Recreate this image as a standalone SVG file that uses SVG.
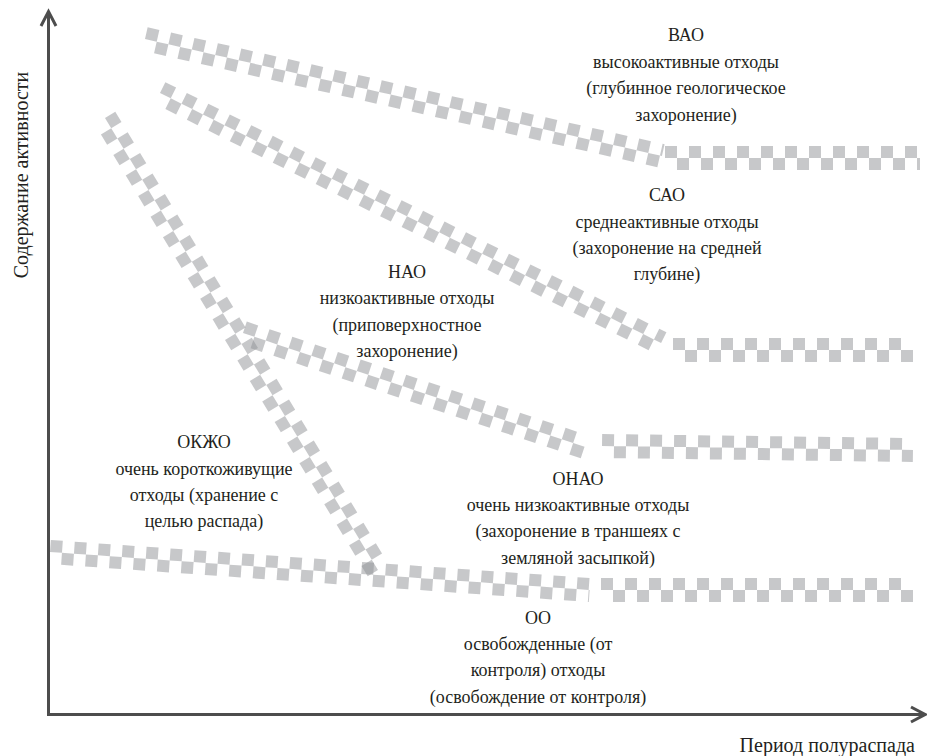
<svg xmlns="http://www.w3.org/2000/svg" width="927" height="756" viewBox="0 0 927 756" font-family="Liberation Serif, Times New Roman, serif">
<style>
text{font-family:"Liberation Serif","Times New Roman",Times,serif}
.t{font-size:18px;fill:#231f20;text-anchor:middle}
.ax{font-size:20px;fill:#231f20}
.a{stroke:#4d4d4d;stroke-width:3;fill:none}
.r1{stroke:#909295;stroke-opacity:0.5;stroke-width:12;stroke-dasharray:12 12}
.r2{stroke:#909295;stroke-opacity:0.5;stroke-width:12;stroke-dasharray:12 12;stroke-dashoffset:12}
</style>
<rect width="927" height="756" fill="#fff"/>
<g id="axes">
<line class="a" x1="48.5" y1="12" x2="48.5" y2="716"/>
<line class="a" x1="47" y1="714.5" x2="924" y2="714.5"/>
<polyline class="a" points="41,26 48.5,11.5 56,26"/>
<polyline class="a" points="911,707 925,714.5 911,722"/>
<text class="ax" font-family="Liberation Serif" transform="translate(28,175) rotate(-90)" text-anchor="middle">Содержание активности</text>
<text class="ax" font-family="Liberation Serif" x="915" y="752" text-anchor="end">Период полураспада</text>
</g>
<g id="vao">
<g transform="translate(145,39) rotate(12.75)"><line class="r1" x1="0" y1="-6" x2="530" y2="-6"/><line class="r2" x1="0" y1="6" x2="530" y2="6"/></g>
<g transform="translate(665,158)"><line class="r1" x1="0" y1="-6" x2="255" y2="-6"/><line class="r2" x1="0" y1="6" x2="255" y2="6"/></g>
<text class="t" font-family="Liberation Serif"><tspan x="686" y="41">ВАО</tspan><tspan x="686" y="68">высокоактивные отходы</tspan><tspan x="686" y="94">(глубинное геологическое</tspan><tspan x="686" y="121">захоронение)</tspan></text>
</g>
<g id="sao">
<g transform="translate(160,93) rotate(26.52)"><line class="r1" x1="0" y1="-6" x2="560" y2="-6"/><line class="r2" x1="0" y1="6" x2="560" y2="6"/></g>
<g transform="translate(673,350)"><line class="r1" x1="0" y1="-6" x2="240" y2="-6"/><line class="r2" x1="0" y1="6" x2="240" y2="6"/></g>
<text class="t" font-family="Liberation Serif"><tspan x="667" y="201">САО</tspan><tspan x="667" y="228">среднеактивные отходы</tspan><tspan x="667" y="254">(захоронение на средней</tspan><tspan x="667" y="280">глубине)</tspan></text>
</g>
<g id="nao">
<g transform="translate(243,333) rotate(18.43)"><line class="r1" x1="0" y1="-6" x2="360" y2="-6"/><line class="r2" x1="0" y1="6" x2="360" y2="6"/></g>
<g transform="translate(602,446) rotate(0.74)"><line class="r1" x1="0" y1="-6" x2="311" y2="-6"/><line class="r2" x1="0" y1="6" x2="311" y2="6"/></g>
<text class="t" font-family="Liberation Serif"><tspan x="407" y="278">НАО</tspan><tspan x="407" y="304">низкоактивные отходы</tspan><tspan x="407" y="331">(приповерхностное</tspan><tspan x="407" y="357">захоронение)</tspan></text>
</g>
<g id="onao">
<text class="t" font-family="Liberation Serif"><tspan x="578" y="485">ОНАО</tspan><tspan x="578" y="511">очень низкоактивные отходы</tspan><tspan x="578" y="537">(захоронение в траншеях с</tspan><tspan x="578" y="564">земляной засыпкой)</tspan></text>
</g>
<g id="okzho">
<g transform="translate(105,118) rotate(58.87)"><line class="r1" x1="0" y1="-6" x2="528" y2="-6"/><line class="r2" x1="0" y1="6" x2="528" y2="6"/></g>
<text class="t" font-family="Liberation Serif"><tspan x="204" y="448">ОКЖО</tspan><tspan x="204" y="475">очень короткоживущие</tspan><tspan x="204" y="501">отходы (хранение с</tspan><tspan x="204" y="527">целью распада)</tspan></text>
</g>
<g id="oo">
<g transform="translate(50,552) rotate(4.03)"><line class="r1" x1="0" y1="-6" x2="541" y2="-6"/><line class="r2" x1="0" y1="6" x2="541" y2="6"/></g>
<g transform="translate(601,590)"><line class="r1" x1="0" y1="-6" x2="312" y2="-6"/><line class="r2" x1="0" y1="6" x2="312" y2="6"/></g>
<text class="t" font-family="Liberation Serif"><tspan x="538" y="624">ОО</tspan><tspan x="538" y="650">освобожденные (от</tspan><tspan x="538" y="676">контроля) отходы</tspan><tspan x="538" y="703">(освобождение от контроля)</tspan></text>
</g>
<g id="connectors"/>
</svg>
